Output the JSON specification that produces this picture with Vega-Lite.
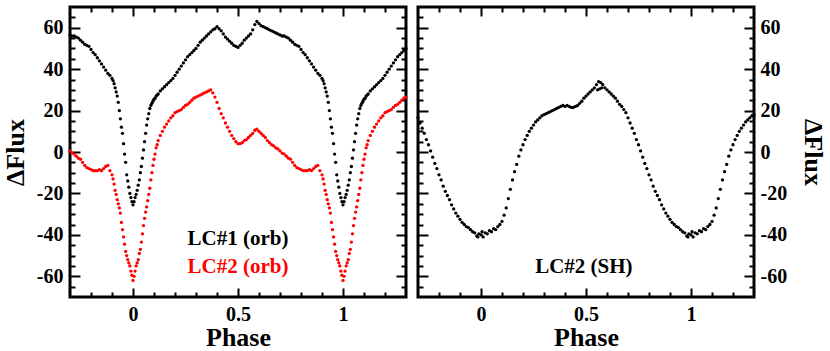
{
  "$schema": "https://vega.github.io/schema/vega-lite/v6.json",
  "padding": {"left": 0, "top": 4, "right": 0, "bottom": 0},
  "config": {
    "view": {"stroke": "black", "strokeWidth": 3},
    "axis": {
      "domain": false, "grid": false, "tickColor": "black", "tickWidth": 2,
      "labelFont": "Liberation Serif", "labelFontWeight": "bold", "labelFontSize": 20, "labelColor": "black",
      "titleFont": "Liberation Serif", "titleFontWeight": "bold", "titleFontSize": 26, "titleColor": "black"
    }
  },
  "datasets": {
    "orb": [
      {"p":-0.3,"a":56.5,"b":0.5},{"p":-0.29,"a":56,"b":-0.5},{"p":-0.28,"a":56,"b":-1},{"p":-0.27,"a":55.5,"b":-2},{"p":-0.26,"a":55,"b":-3},
      {"p":-0.25,"a":54,"b":-3.5},{"p":-0.24,"a":53,"b":-5},{"p":-0.23,"a":52,"b":-6.5},{"p":-0.22,"a":51.5,"b":-7.5},{"p":-0.21,"a":51,"b":-8},
      {"p":-0.2,"a":49.5,"b":-8.5},{"p":-0.19,"a":48,"b":-9},{"p":-0.18,"a":47,"b":-9},{"p":-0.17,"a":45.5,"b":-9},{"p":-0.16,"a":44,"b":-8.5},
      {"p":-0.15,"a":42.5,"b":-9},{"p":-0.14,"a":41,"b":-8},{"p":-0.13,"a":39.5,"b":-7},{"p":-0.12,"a":38,"b":-6.5},{"p":-0.11,"a":37,"b":-9},
      {"p":-0.1,"a":35.5,"b":-11},{"p":-0.095,"a":34.5,"b":-13},{"p":-0.09,"a":33,"b":-15.5},{"p":-0.085,"a":31,"b":-18.5},{"p":-0.08,"a":29,"b":-20.5},
      {"p":-0.075,"a":27,"b":-23},{"p":-0.07,"a":24,"b":-25},{"p":-0.065,"a":20,"b":-27},{"p":-0.06,"a":16,"b":-29.5},{"p":-0.055,"a":12,"b":-34},
      {"p":-0.05,"a":9,"b":-37.5},{"p":-0.045,"a":4,"b":-41},{"p":-0.04,"a":-1,"b":-44.5},{"p":-0.035,"a":-5,"b":-48},{"p":-0.03,"a":-11,"b":-50},
      {"p":-0.025,"a":-14,"b":-52},{"p":-0.02,"a":-17,"b":-53.5},{"p":-0.015,"a":-20,"b":-55},{"p":-0.01,"a":-22,"b":-57.5},{"p":-0.005,"a":-24,"b":-59.5},
      {"p":0,"a":-25.5,"b":-62},{"p":0.005,"a":-24,"b":-60},{"p":0.01,"a":-22,"b":-57.5},{"p":0.015,"a":-20.5,"b":-55},{"p":0.02,"a":-18.5,"b":-53.5},
      {"p":0.025,"a":-16,"b":-52},{"p":0.03,"a":-13.5,"b":-49},{"p":0.035,"a":-10,"b":-47},{"p":0.04,"a":-7,"b":-43.5},{"p":0.045,"a":-3,"b":-39.5},
      {"p":0.05,"a":1,"b":-35.5},{"p":0.055,"a":5,"b":-32},{"p":0.06,"a":9,"b":-29},{"p":0.065,"a":13,"b":-26.5},{"p":0.07,"a":16,"b":-23.5},
      {"p":0.075,"a":18.5,"b":-20.5},{"p":0.08,"a":21,"b":-17.5},{"p":0.085,"a":22.5,"b":-13.5},{"p":0.09,"a":23.5,"b":-10},{"p":0.095,"a":24.5,"b":-6.5},
      {"p":0.1,"a":25.5,"b":-3.5},{"p":0.105,"a":26,"b":-1},{"p":0.11,"a":27,"b":2},{"p":0.115,"a":27.5,"b":3.5},{"p":0.12,"a":28,"b":5.5},
      {"p":0.13,"a":29.5,"b":8},{"p":0.14,"a":30.5,"b":10},{"p":0.15,"a":31.5,"b":12},{"p":0.16,"a":32.5,"b":13.5},{"p":0.17,"a":33.5,"b":15},
      {"p":0.18,"a":34.5,"b":16.5},{"p":0.19,"a":35.5,"b":17.5},{"p":0.2,"a":37,"b":19},{"p":0.21,"a":38.5,"b":19.5},{"p":0.22,"a":40,"b":20},
      {"p":0.23,"a":41.5,"b":20.5},{"p":0.24,"a":43,"b":21.5},{"p":0.25,"a":44.5,"b":22.5},{"p":0.26,"a":46,"b":23},{"p":0.27,"a":47,"b":24},
      {"p":0.28,"a":48,"b":25},{"p":0.29,"a":49,"b":26},{"p":0.3,"a":50,"b":26.5},{"p":0.31,"a":51.5,"b":27},{"p":0.32,"a":53,"b":27.5},
      {"p":0.33,"a":54,"b":28},{"p":0.34,"a":55,"b":28.5},{"p":0.35,"a":56,"b":29},{"p":0.36,"a":57,"b":29.5},{"p":0.37,"a":58,"b":30},
      {"p":0.38,"a":59,"b":28.5},{"p":0.39,"a":59.5,"b":26.5},{"p":0.4,"a":60.5,"b":24},{"p":0.41,"a":59.5,"b":21},{"p":0.42,"a":58.5,"b":18.5},
      {"p":0.43,"a":57,"b":16.5},{"p":0.44,"a":55.5,"b":14},{"p":0.45,"a":54.5,"b":12},{"p":0.46,"a":53.5,"b":10},{"p":0.47,"a":52.5,"b":8},
      {"p":0.48,"a":51.5,"b":6.5},{"p":0.49,"a":51,"b":5},{"p":0.5,"a":50.5,"b":4},{"p":0.51,"a":51.5,"b":4},{"p":0.52,"a":52.5,"b":4.5},
      {"p":0.53,"a":54,"b":5.5},{"p":0.54,"a":55,"b":6},{"p":0.55,"a":56,"b":7},{"p":0.56,"a":57,"b":8},{"p":0.57,"a":59,"b":9},
      {"p":0.58,"a":61.5,"b":10.5},{"p":0.59,"a":63,"b":11},{"p":0.6,"a":62,"b":10},{"p":0.61,"a":61,"b":9},{"p":0.62,"a":60.5,"b":8},
      {"p":0.63,"a":60,"b":7},{"p":0.64,"a":59.5,"b":5.5},{"p":0.65,"a":59,"b":4.5},{"p":0.66,"a":58.5,"b":3.5},{"p":0.67,"a":58,"b":3},
      {"p":0.68,"a":57.5,"b":2},{"p":0.69,"a":57,"b":1.5},{"p":0.7,"a":56.5,"b":0.5},{"p":0.71,"a":56,"b":-0.5},{"p":0.72,"a":56,"b":-1},
      {"p":0.73,"a":55.5,"b":-2},{"p":0.74,"a":55,"b":-3},{"p":0.75,"a":54,"b":-3.5},{"p":0.76,"a":53,"b":-5},{"p":0.77,"a":52,"b":-6.5},
      {"p":0.78,"a":51.5,"b":-7.5},{"p":0.79,"a":51,"b":-8},{"p":0.8,"a":49.5,"b":-8.5},{"p":0.81,"a":48,"b":-9},{"p":0.82,"a":47,"b":-9},
      {"p":0.83,"a":45.5,"b":-9},{"p":0.84,"a":44,"b":-8.5},{"p":0.85,"a":42.5,"b":-9},{"p":0.86,"a":41,"b":-8},{"p":0.87,"a":39.5,"b":-7},
      {"p":0.88,"a":38,"b":-6.5},{"p":0.89,"a":37,"b":-9},{"p":0.9,"a":35.5,"b":-11},{"p":0.905,"a":34.5,"b":-13},{"p":0.91,"a":33,"b":-15.5},
      {"p":0.915,"a":31,"b":-18.5},{"p":0.92,"a":29,"b":-20.5},{"p":0.925,"a":27,"b":-23},{"p":0.93,"a":24,"b":-25},{"p":0.935,"a":20,"b":-27},
      {"p":0.94,"a":16,"b":-29.5},{"p":0.945,"a":12,"b":-34},{"p":0.95,"a":9,"b":-37.5},{"p":0.955,"a":4,"b":-41},{"p":0.96,"a":-1,"b":-44.5},
      {"p":0.965,"a":-5,"b":-48},{"p":0.97,"a":-11,"b":-50},{"p":0.975,"a":-14,"b":-52},{"p":0.98,"a":-17,"b":-53.5},{"p":0.985,"a":-20,"b":-55},
      {"p":0.99,"a":-22,"b":-57.5},{"p":0.995,"a":-24,"b":-59.5},
      {"p":1,"a":-25.5,"b":-62},{"p":1.005,"a":-24,"b":-60},{"p":1.01,"a":-22,"b":-57.5},{"p":1.015,"a":-20.5,"b":-55},{"p":1.02,"a":-18.5,"b":-53.5},
      {"p":1.025,"a":-16,"b":-52},{"p":1.03,"a":-13.5,"b":-49},{"p":1.035,"a":-10,"b":-47},{"p":1.04,"a":-7,"b":-43.5},{"p":1.045,"a":-3,"b":-39.5},
      {"p":1.05,"a":1,"b":-35.5},{"p":1.055,"a":5,"b":-32},{"p":1.06,"a":9,"b":-29},{"p":1.065,"a":13,"b":-26.5},{"p":1.07,"a":16,"b":-23.5},
      {"p":1.075,"a":18.5,"b":-20.5},{"p":1.08,"a":21,"b":-17.5},{"p":1.085,"a":22.5,"b":-13.5},{"p":1.09,"a":23.5,"b":-10},{"p":1.095,"a":24.5,"b":-6.5},
      {"p":1.1,"a":25.5,"b":-3.5},{"p":1.105,"a":26,"b":-1},{"p":1.11,"a":27,"b":2},{"p":1.115,"a":27.5,"b":3.5},{"p":1.12,"a":28,"b":5.5},
      {"p":1.13,"a":29.5,"b":8},{"p":1.14,"a":30.5,"b":10},{"p":1.15,"a":31.5,"b":12},{"p":1.16,"a":32.5,"b":13.5},{"p":1.17,"a":33.5,"b":15},
      {"p":1.18,"a":34.5,"b":16.5},{"p":1.19,"a":35.5,"b":17.5},{"p":1.2,"a":37,"b":19},{"p":1.21,"a":38.5,"b":19.5},{"p":1.22,"a":40,"b":20},
      {"p":1.23,"a":41.5,"b":20.5},{"p":1.24,"a":43,"b":21.5},{"p":1.25,"a":44.5,"b":22.5},{"p":1.26,"a":46,"b":23},{"p":1.27,"a":47,"b":24},
      {"p":1.28,"a":48,"b":25},{"p":1.29,"a":49,"b":26},{"p":1.3,"a":50,"b":26.5}
    ],
    "sh": [
      {"p":-0.3,"c":16.5},{"p":-0.29,"c":14},{"p":-0.28,"c":11.5},{"p":-0.27,"c":9},{"p":-0.26,"c":6},
      {"p":-0.25,"c":3.5},{"p":-0.24,"c":0.5},{"p":-0.23,"c":-2.5},{"p":-0.22,"c":-5.5},{"p":-0.21,"c":-8},
      {"p":-0.2,"c":-11},{"p":-0.19,"c":-13.5},{"p":-0.18,"c":-16.5},{"p":-0.17,"c":-19},{"p":-0.16,"c":-21},
      {"p":-0.15,"c":-23},{"p":-0.14,"c":-25.5},{"p":-0.13,"c":-27.5},{"p":-0.12,"c":-29.5},{"p":-0.11,"c":-31},
      {"p":-0.1,"c":-32.5},{"p":-0.09,"c":-34},{"p":-0.08,"c":-35},{"p":-0.07,"c":-36},{"p":-0.06,"c":-36.5},
      {"p":-0.05,"c":-37.5},{"p":-0.04,"c":-38.5},{"p":-0.03,"c":-39},{"p":-0.02,"c":-40.5},{"p":-0.01,"c":-39.5},{"p":-0.015,"c":-41},
      {"p":0,"c":-40},{"p":0.005,"c":-38.5},{"p":0.01,"c":-41},{"p":0.02,"c":-39},{"p":0.03,"c":-39.5},{"p":0.04,"c":-38},
      {"p":0.05,"c":-38.5},{"p":0.06,"c":-37},{"p":0.07,"c":-37.5},{"p":0.08,"c":-36},{"p":0.09,"c":-35},
      {"p":0.1,"c":-33.5},{"p":0.11,"c":-30.5},{"p":0.12,"c":-27},{"p":0.13,"c":-22.5},{"p":0.14,"c":-18},
      {"p":0.15,"c":-13.5},{"p":0.16,"c":-9.5},{"p":0.17,"c":-6},{"p":0.18,"c":-2},{"p":0.19,"c":1},
      {"p":0.2,"c":3.5},{"p":0.21,"c":6},{"p":0.22,"c":8},{"p":0.23,"c":10},{"p":0.24,"c":11.5},
      {"p":0.25,"c":13},{"p":0.26,"c":14.5},{"p":0.27,"c":15.5},{"p":0.28,"c":16.5},{"p":0.29,"c":17.5},
      {"p":0.3,"c":18},{"p":0.31,"c":18.5},{"p":0.32,"c":19},{"p":0.33,"c":19.5},{"p":0.34,"c":20},
      {"p":0.35,"c":20.5},{"p":0.36,"c":21},{"p":0.37,"c":21.5},{"p":0.38,"c":22},{"p":0.39,"c":22.5},
      {"p":0.4,"c":22},{"p":0.41,"c":22.5},{"p":0.42,"c":22},{"p":0.43,"c":21.5},{"p":0.44,"c":21.5},
      {"p":0.45,"c":22},{"p":0.46,"c":22.5},{"p":0.47,"c":23.5},{"p":0.48,"c":24.5},{"p":0.49,"c":26},
      {"p":0.5,"c":27},{"p":0.51,"c":28},{"p":0.52,"c":29},{"p":0.53,"c":30},{"p":0.54,"c":31},
      {"p":0.55,"c":32.5},{"p":0.555,"c":30},{"p":0.56,"c":34},{"p":0.565,"c":30.5},{"p":0.57,"c":33.5},{"p":0.575,"c":31},{"p":0.58,"c":32.5},{"p":0.59,"c":31},
      {"p":0.6,"c":30},{"p":0.61,"c":29},{"p":0.62,"c":28},{"p":0.63,"c":27},{"p":0.64,"c":26},
      {"p":0.65,"c":24.5},{"p":0.66,"c":23},{"p":0.67,"c":22},{"p":0.68,"c":20.5},{"p":0.69,"c":19},
      {"p":0.7,"c":16.5},{"p":0.71,"c":14},{"p":0.72,"c":11.5},{"p":0.73,"c":9},{"p":0.74,"c":6},
      {"p":0.75,"c":3.5},{"p":0.76,"c":0.5},{"p":0.77,"c":-2.5},{"p":0.78,"c":-5.5},{"p":0.79,"c":-8},
      {"p":0.8,"c":-11},{"p":0.81,"c":-13.5},{"p":0.82,"c":-16.5},{"p":0.83,"c":-19},{"p":0.84,"c":-21},
      {"p":0.85,"c":-23},{"p":0.86,"c":-25.5},{"p":0.87,"c":-27.5},{"p":0.88,"c":-29.5},{"p":0.89,"c":-31},
      {"p":0.9,"c":-32.5},{"p":0.91,"c":-34},{"p":0.92,"c":-35},{"p":0.93,"c":-36},{"p":0.94,"c":-36.5},
      {"p":0.95,"c":-37.5},{"p":0.96,"c":-38.5},{"p":0.97,"c":-39},{"p":0.98,"c":-40.5},{"p":0.985,"c":-41},{"p":0.99,"c":-39.5},
      {"p":1,"c":-40},{"p":1.005,"c":-38.5},{"p":1.01,"c":-41},{"p":1.02,"c":-39},{"p":1.03,"c":-39.5},{"p":1.04,"c":-38},
      {"p":1.05,"c":-38.5},{"p":1.06,"c":-37},{"p":1.07,"c":-37.5},{"p":1.08,"c":-36},{"p":1.09,"c":-35},
      {"p":1.1,"c":-33.5},{"p":1.11,"c":-30.5},{"p":1.12,"c":-27},{"p":1.13,"c":-22.5},{"p":1.14,"c":-18},
      {"p":1.15,"c":-13.5},{"p":1.16,"c":-9.5},{"p":1.17,"c":-6},{"p":1.18,"c":-2},{"p":1.19,"c":1},
      {"p":1.2,"c":3.5},{"p":1.21,"c":6},{"p":1.22,"c":8},{"p":1.23,"c":10},{"p":1.24,"c":11.5},
      {"p":1.25,"c":13},{"p":1.26,"c":14.5},{"p":1.27,"c":15.5},{"p":1.28,"c":16.5},{"p":1.29,"c":17.5},{"p":1.3,"c":18}
    ]
  },
  "spacing": 4,
  "hconcat": [
    {
      "width": 336, "height": 290,
      "data": {"name": "orb"},
      "resolve": {"axis": {"x": "independent", "y": "independent"}},
      "layer": [
        {
          "mark": {"type": "circle", "size": 11, "color": "black", "opacity": 1},
          "encoding": {
            "x": {"field": "p", "type": "quantitative", "scale": {"domain": [-0.3, 1.3], "nice": false, "zero": false},
                  "axis": {"orient": "bottom", "values": [0, 0.5, 1], "tickSize": -9, "tickColor": "black", "tickWidth": 2, "labelPadding": 16, "labelExpr": "'' + datum.value", "title": "Phase", "titlePadding": 0}},
            "y": {"field": "a", "type": "quantitative", "scale": {"domain": [-70, 70], "nice": false, "zero": false},
                  "axis": {"orient": "left", "values": [-60, -40, -20, 0, 20, 40, 60], "tickSize": -10, "tickColor": "black", "tickWidth": 2, "labelPadding": 17, "labelExpr": "'' + datum.value", "title": "ΔFlux", "titlePadding": 8}}
          }
        },
        {
          "mark": {"type": "circle", "size": 11, "color": "#ff0000", "opacity": 1},
          "encoding": {
            "x": {"field": "p", "type": "quantitative", "scale": {"domain": [-0.3, 1.3], "nice": false, "zero": false},
                  "axis": {"orient": "top", "values": [0, 0.5, 1], "tickSize": -9, "tickColor": "black", "tickWidth": 2, "labels": false, "title": null}},
            "y": {"field": "b", "type": "quantitative", "scale": {"domain": [-70, 70], "nice": false, "zero": false},
                  "axis": {"orient": "right", "values": [-60, -40, -20, 0, 20, 40, 60], "tickSize": -10, "tickColor": "black", "tickWidth": 2, "labels": false, "title": null}}
          }
        },
        {
          "mark": {"type": "circle", "size": 11, "color": "black", "opacity": 0},
          "encoding": {
            "x": {"field": "p", "type": "quantitative", "scale": {"domain": [-0.3, 1.3], "nice": false, "zero": false},
                  "axis": {"orient": "bottom", "values": [-0.2, -0.1, 0.1, 0.2, 0.3, 0.4, 0.6, 0.7, 0.8, 0.9, 1.1, 1.2], "tickSize": -5, "tickColor": "black", "tickWidth": 2, "labels": false, "title": null}},
            "y": {"field": "a", "type": "quantitative", "scale": {"domain": [-70, 70], "nice": false, "zero": false},
                  "axis": {"orient": "left", "values": [-65, -55, -50, -45, -35, -30, -25, -15, -10, -5, 5, 10, 15, 25, 30, 35, 45, 50, 55, 65], "tickSize": -5, "tickColor": "black", "tickWidth": 2, "labels": false, "title": null}}
          }
        },
        {
          "mark": {"type": "circle", "size": 11, "color": "black", "opacity": 0},
          "encoding": {
            "x": {"field": "p", "type": "quantitative", "scale": {"domain": [-0.3, 1.3], "nice": false, "zero": false},
                  "axis": {"orient": "top", "values": [-0.2, -0.1, 0.1, 0.2, 0.3, 0.4, 0.6, 0.7, 0.8, 0.9, 1.1, 1.2], "tickSize": -5, "tickColor": "black", "tickWidth": 2, "labels": false, "title": null}},
            "y": {"field": "b", "type": "quantitative", "scale": {"domain": [-70, 70], "nice": false, "zero": false},
                  "axis": {"orient": "right", "values": [-65, -55, -50, -45, -35, -30, -25, -15, -10, -5, 5, 10, 15, 25, 30, 35, 45, 50, 55, 65], "tickSize": -5, "tickColor": "black", "tickWidth": 2, "labels": false, "title": null}}
          }
        },
        {
          "data": {"values": [{}]},
          "mark": {"type": "text", "text": "LC#1 (orb)", "font": "Liberation Serif", "fontWeight": "bold", "fontSize": 21, "color": "black"},
          "encoding": {
            "x": {"datum": 0.5, "type": "quantitative", "scale": {"domain": [-0.3, 1.3], "nice": false, "zero": false}, "axis": null},
            "y": {"datum": -42, "type": "quantitative", "scale": {"domain": [-70, 70], "nice": false, "zero": false}, "axis": null}
          }
        },
        {
          "data": {"values": [{}]},
          "mark": {"type": "text", "text": "LC#2 (orb)", "font": "Liberation Serif", "fontWeight": "bold", "fontSize": 21, "color": "#ff0000"},
          "encoding": {
            "x": {"datum": 0.5, "type": "quantitative", "scale": {"domain": [-0.3, 1.3], "nice": false, "zero": false}, "axis": null},
            "y": {"datum": -55.5, "type": "quantitative", "scale": {"domain": [-70, 70], "nice": false, "zero": false}, "axis": null}
          }
        }
      ]
    },
    {
      "width": 336, "height": 290,
      "data": {"name": "sh"},
      "resolve": {"axis": {"x": "independent", "y": "independent"}},
      "layer": [
        {
          "mark": {"type": "circle", "size": 11, "color": "black", "opacity": 1},
          "encoding": {
            "x": {"field": "p", "type": "quantitative", "scale": {"domain": [-0.3, 1.3], "nice": false, "zero": false},
                  "axis": {"orient": "bottom", "values": [0, 0.5, 1], "tickSize": -9, "tickColor": "black", "tickWidth": 2, "labelPadding": 16, "labelExpr": "'' + datum.value", "title": "Phase", "titlePadding": 0}},
            "y": {"field": "c", "type": "quantitative", "scale": {"domain": [-70, 70], "nice": false, "zero": false},
                  "axis": {"orient": "right", "values": [-60, -40, -20, 0, 20, 40, 60], "tickSize": -10, "tickColor": "black", "tickWidth": 2, "labelPadding": 16, "labelExpr": "'' + datum.value", "title": "ΔFlux", "titlePadding": 13}}
          }
        },
        {
          "mark": {"type": "circle", "size": 11, "color": "black", "opacity": 0},
          "encoding": {
            "x": {"field": "p", "type": "quantitative", "scale": {"domain": [-0.3, 1.3], "nice": false, "zero": false},
                  "axis": {"orient": "top", "values": [0, 0.5, 1], "tickSize": -9, "tickColor": "black", "tickWidth": 2, "labels": false, "title": null}},
            "y": {"field": "c", "type": "quantitative", "scale": {"domain": [-70, 70], "nice": false, "zero": false},
                  "axis": {"orient": "left", "values": [-60, -40, -20, 0, 20, 40, 60], "tickSize": -10, "tickColor": "black", "tickWidth": 2, "labels": false, "title": null}}
          }
        },
        {
          "mark": {"type": "circle", "size": 11, "color": "black", "opacity": 0},
          "encoding": {
            "x": {"field": "p", "type": "quantitative", "scale": {"domain": [-0.3, 1.3], "nice": false, "zero": false},
                  "axis": {"orient": "bottom", "values": [-0.2, -0.1, 0.1, 0.2, 0.3, 0.4, 0.6, 0.7, 0.8, 0.9, 1.1, 1.2], "tickSize": -5, "tickColor": "black", "tickWidth": 2, "labels": false, "title": null}},
            "y": {"field": "c", "type": "quantitative", "scale": {"domain": [-70, 70], "nice": false, "zero": false},
                  "axis": {"orient": "right", "values": [-65, -55, -50, -45, -35, -30, -25, -15, -10, -5, 5, 10, 15, 25, 30, 35, 45, 50, 55, 65], "tickSize": -5, "tickColor": "black", "tickWidth": 2, "labels": false, "title": null}}
          }
        },
        {
          "mark": {"type": "circle", "size": 11, "color": "black", "opacity": 0},
          "encoding": {
            "x": {"field": "p", "type": "quantitative", "scale": {"domain": [-0.3, 1.3], "nice": false, "zero": false},
                  "axis": {"orient": "top", "values": [-0.2, -0.1, 0.1, 0.2, 0.3, 0.4, 0.6, 0.7, 0.8, 0.9, 1.1, 1.2], "tickSize": -5, "tickColor": "black", "tickWidth": 2, "labels": false, "title": null}},
            "y": {"field": "c", "type": "quantitative", "scale": {"domain": [-70, 70], "nice": false, "zero": false},
                  "axis": {"orient": "left", "values": [-65, -55, -50, -45, -35, -30, -25, -15, -10, -5, 5, 10, 15, 25, 30, 35, 45, 50, 55, 65], "tickSize": -5, "tickColor": "black", "tickWidth": 2, "labels": false, "title": null}}
          }
        },
        {
          "data": {"values": [{}]},
          "mark": {"type": "text", "text": "LC#2 (SH)", "font": "Liberation Serif", "fontWeight": "bold", "fontSize": 21, "color": "black"},
          "encoding": {
            "x": {"datum": 0.49, "type": "quantitative", "scale": {"domain": [-0.3, 1.3], "nice": false, "zero": false}, "axis": null},
            "y": {"datum": -55.5, "type": "quantitative", "scale": {"domain": [-70, 70], "nice": false, "zero": false}, "axis": null}
          }
        }
      ]
    }
  ]
}
